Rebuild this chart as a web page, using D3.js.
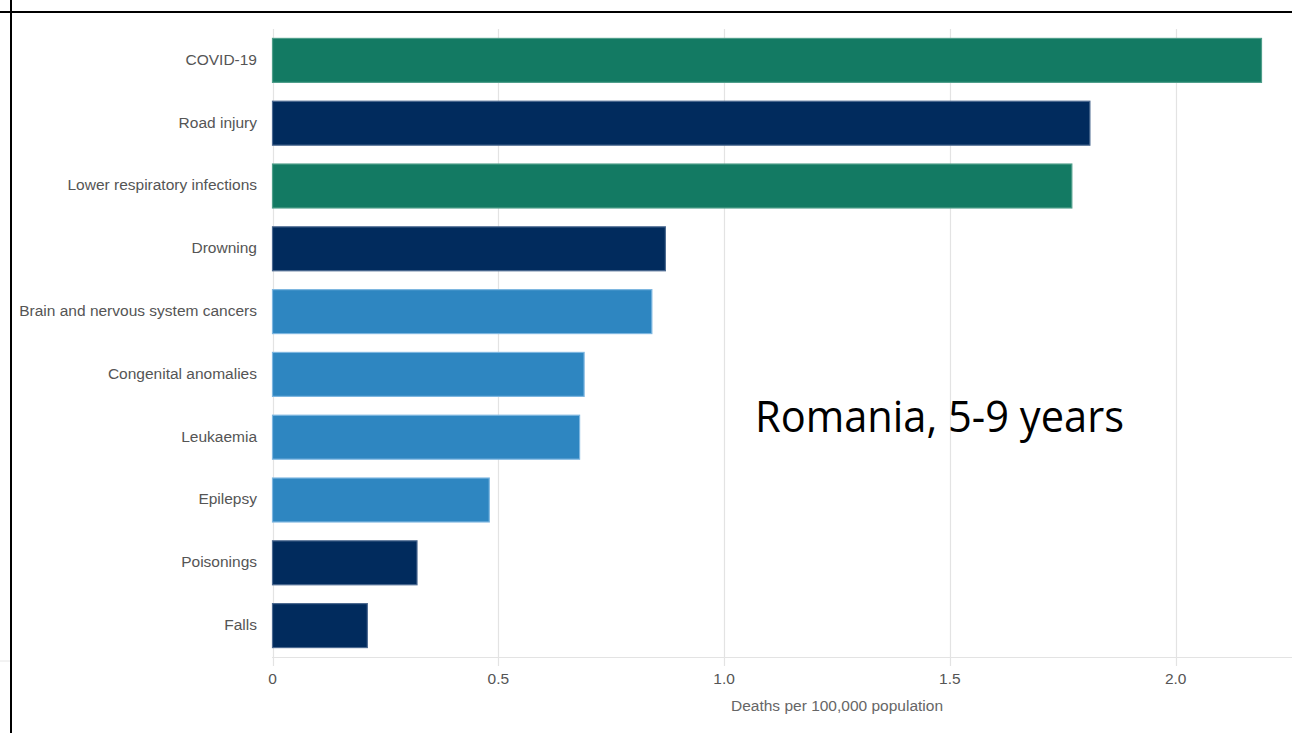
<!DOCTYPE html>
<html>
<head>
<meta charset="utf-8">
<script src="https://cdn.jsdelivr.net/npm/d3@7"></script>
<style>
  html, body { margin: 0; padding: 0; background: #fff; }
  svg { display: block; }
</style>
</head>
<body>
<svg id="chart" width="1292" height="733"></svg>
<script>
const categories = ["COVID-19", "Road injury", "Lower respiratory infections", "Drowning",
  "Brain and nervous system cancers", "Congenital anomalies", "Leukaemia", "Epilepsy",
  "Poisonings", "Falls"];
const values = [2.19, 1.81, 1.77, 0.87, 0.84, 0.69, 0.68, 0.48, 0.32, 0.21];
const groups = ["comm", "inj", "comm", "inj", "ncd", "ncd", "ncd", "ncd", "inj", "inj"];
const xTicks = [0, 0.5, 1.0, 1.5, 2.0];
const xTickLabels = ["0", "0.5", "1.0", "1.5", "2.0"];
const axisTitle = "Deaths per 100,000 population";
const annotation = "Romania, 5-9 years";

const fillColor = { comm: "#137a63", inj: "#012b5d", ncd: "#2e86c1" };
const strokeColor = { comm: "#4f9e8a", inj: "#4c6990", ncd: "#7db6e0" };

const svg = d3.select("#chart");
const W = 1292, H = 733;

// frame lines
svg.append("line").attr("x1", 0).attr("x2", W).attr("y1", 12).attr("y2", 12)
  .attr("stroke", "#000").attr("stroke-width", 2);
svg.append("line").attr("x1", 11).attr("x2", 11).attr("y1", 0).attr("y2", H)
  .attr("stroke", "#000").attr("stroke-width", 2);
svg.append("line").attr("x1", 0).attr("x2", 10).attr("y1", 661).attr("y2", 661)
  .attr("stroke", "#e6e6e6").attr("stroke-width", 1);

const x = d3.scaleLinear().domain([0, 2.0]).range([272.5, 1175.7]);
const y = d3.scaleBand().domain(categories).range([29, 657]).paddingInner(0.3).paddingOuter(0.15);

// gridlines
svg.append("g").selectAll("line").data(xTicks).join("line")
  .attr("x1", d => Math.round(x(d)) + 0.5).attr("x2", d => Math.round(x(d)) + 0.5)
  .attr("y1", 29).attr("y2", 666)
  .attr("stroke", "#e3e3e3").attr("stroke-width", 1.2);

// axis baseline
svg.append("line").attr("x1", 272).attr("x2", W).attr("y1", 657.5).attr("y2", 657.5)
  .attr("stroke", "#e3e3e3").attr("stroke-width", 1.2);

// bars
svg.append("g").selectAll("rect").data(categories).join("rect")
  .attr("x", x(0))
  .attr("y", d => y(d))
  .attr("width", (d, i) => x(values[i]) - x(0))
  .attr("height", y.bandwidth())
  .attr("fill", (d, i) => fillColor[groups[i]])
  .attr("stroke", (d, i) => strokeColor[groups[i]])
  .attr("stroke-width", 1.2);

// category labels
svg.append("g").selectAll("text").data(categories).join("text")
  .attr("x", 257)
  .attr("y", d => y(d) + y.bandwidth() / 2 - 1)
  .attr("dy", "0.35em")
  .attr("text-anchor", "end")
  .attr("font-family", "Liberation Sans, Arial, sans-serif")
  .attr("font-size", 15.5)
  .attr("fill", "#555")
  .text(d => d);

// x tick labels
svg.append("g").selectAll("text").data(xTicks).join("text")
  .attr("x", d => x(d))
  .attr("y", 684)
  .attr("text-anchor", "middle")
  .attr("font-family", "Liberation Sans, Arial, sans-serif")
  .attr("font-size", 15.5)
  .attr("fill", "#555")
  .text((d, i) => xTickLabels[i]);

// axis title
svg.append("text")
  .attr("x", 837).attr("y", 711)
  .attr("text-anchor", "middle")
  .attr("font-family", "Liberation Sans, Arial, sans-serif")
  .attr("font-size", 15.5)
  .attr("fill", "#666")
  .text(axisTitle);

// annotation
svg.append("text")
  .attr("x", 755).attr("y", 432)
  .attr("font-family", "Open Sans, Noto Sans, sans-serif")
  .attr("font-size", 44)
  .attr("textLength", 369)
  .attr("lengthAdjust", "spacingAndGlyphs")
  .attr("fill", "#000")
  .text(annotation);
</script>
</body>
</html>
